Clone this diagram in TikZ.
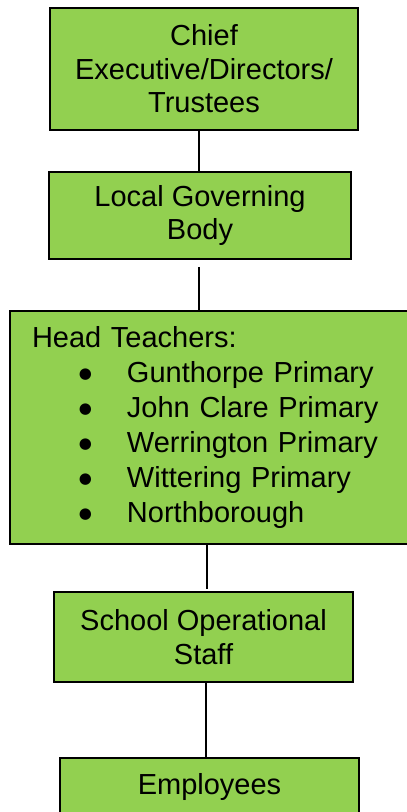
\documentclass[tikz,border=0pt]{standalone}
\usepackage{fontspec}
\setmainfont{Liberation Sans}
\newfontfamily\dotfont{DejaVu Sans}
\usepackage{xcolor}
\usepackage{tikz}
\definecolor{boxgreen}{RGB}{146,208,80}
\newcommand{\schoolitem}[1]{\hspace*{47pt}\makebox[48pt][l]{\raisebox{4pt}{\dotfont\fontsize{15}{15}\selectfont ●}}#1}
\tikzset{box/.style={shape=rectangle,draw=black,fill=boxgreen,line width=1.6pt,align=center,font=\fontsize{29}{33.5}\selectfont},
         link/.style={draw=black,line width=1.4pt}}

\begin{document}
\begin{tikzpicture}[x=1pt,y=-1pt]
    \useasboundingbox (0,0) rectangle (407,812);
    \node[box,minimum width=308pt,minimum height=122pt] (A) at (204,69){Chief\\Executive/Directors/\\Trustees};
    \node[box,minimum width=302pt,minimum height=87pt] (B) at (200,215.5){Local Governing\\Body};
    \node[box,minimum width=402pt,minimum height=233pt,text width=358pt,inner xsep=22pt,align=left,font=\fontsize{29}{35}\selectfont] (C) at (211,427.5){Head Teachers:\\\schoolitem{Gunthorpe Primary}\\\schoolitem{John Clare Primary}\\\schoolitem{Werrington Primary}\\\schoolitem{Wittering Primary}\\\schoolitem{Northborough}};
    \node[box,minimum width=299pt,minimum height=90pt] (D) at (203.5,637){School Operational\\Staff};
    \node[box,minimum width=299pt,minimum height=58pt] (E) at (209.5,787){Employees};
    \path [-]([xshift=-1pt]B.north) edge[link] ([xshift=-1pt]B.north |- A.south);
    \path [-]([xshift=-1pt]B.south) edge[link,shorten <=7pt] ([xshift=-1pt]B.south |- C.north);
    \path [-]([xshift=-4pt]C.south) edge[link,shorten >=2pt] ([xshift=-4pt]C.south |- D.north);
    \path [-]([xshift=2.5pt]D.south) edge[link] ([xshift=2.5pt]D.south |- E.north);
\end{tikzpicture}
\end{document}
